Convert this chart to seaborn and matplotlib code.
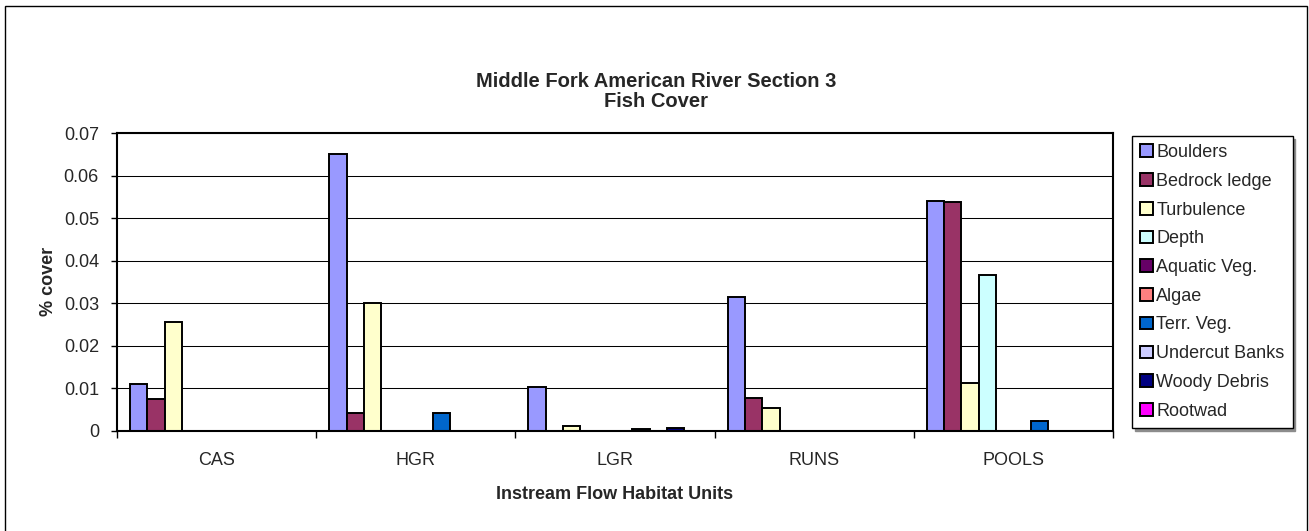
import pandas as pd
import matplotlib
matplotlib.use('Agg')
import matplotlib.pyplot as plt
import matplotlib.patches as mpatches
import seaborn as sns

# habitat units and cover types
units = ['CAS', 'HGR', 'LGR', 'RUNS', 'POOLS']
cover_types = ['Boulders', 'Bedrock ledge', 'Turbulence', 'Depth', 'Aquatic Veg.',
               'Algae', 'Terr. Veg.', 'Undercut Banks', 'Woody Debris', 'Rootwad']
colors = ['#9999FF', '#993366', '#FFFFCC', '#CCFFFF', '#660066',
          '#FF8080', '#0066CC', '#CCCCFF', '#000080', '#FF00FF']

# % cover per unit, one list per cover type (order follows units)
boulders = [0.0110, 0.0650, 0.0103, 0.0315, 0.0539]
bedrock = [0.0074, 0.0041, 0.0, 0.0078, 0.0537]
turbulence = [0.0255, 0.0301, 0.0012, 0.0053, 0.0113]
depth = [0.0, 0.0, 0.0, 0.0, 0.0365]
aquatic_veg = [0.0, 0.0, 0.0, 0.0, 0.0]
algae = [0.0, 0.0, 0.0, 0.0, 0.0]
terr_veg = [0.0, 0.0042, 0.0005, 0.0, 0.0023]
undercut = [0.0, 0.0, 0.0, 0.0, 0.0]
woody = [0.0, 0.0, 0.0006, 0.0, 0.0]
rootwad = [0.0, 0.0, 0.0, 0.0, 0.0]

series = [boulders, bedrock, turbulence, depth, aquatic_veg,
          algae, terr_veg, undercut, woody, rootwad]

rows = []
for name, vals in zip(cover_types, series):
    for u, v in zip(units, vals):
        rows.append({'Unit': u, 'Cover': name, 'Value': v})
df = pd.DataFrame(rows)

sns.set_style('white')
plt.rcParams['font.family'] = ['Liberation Sans', 'DejaVu Sans']

fig = plt.figure(figsize=(13.09, 5.31), dpi=100)
ax = fig.add_axes([0.0894, 0.1889, 0.7609, 0.5606])

sns.barplot(data=df, x='Unit', y='Value', hue='Cover', order=units,
            hue_order=cover_types, palette=colors, saturation=1,
            width=0.87, edgecolor='black', linewidth=1.4, errorbar=None, ax=ax)

ax.set_ylim(0, 0.07)
ax.set_xlim(-0.5, 4.5)
ax.set_yticks([0, 0.01, 0.02, 0.03, 0.04, 0.05, 0.06, 0.07])
ax.set_yticklabels(['0', '0.01', '0.02', '0.03', '0.04', '0.05', '0.06', '0.07'])
ax.yaxis.grid(True, color='black', linewidth=0.75)
ax.set_axisbelow(True)
ax.tick_params(axis='y', left=True, length=4, width=1, pad=9, labelsize=13, color='black')
ax.tick_params(axis='x', bottom=False, length=0, pad=15, labelsize=13)
ax.set_xticks([-0.5, 0.5, 1.5, 2.5, 3.5, 4.5], minor=True)
ax.tick_params(axis='x', which='minor', bottom=True, length=5, width=1, color='black')
for s in ax.spines.values():
    s.set_color('black')
    s.set_linewidth(1.5)

ax.set_xlabel('Instream Flow Habitat Units', fontsize=13, fontweight='bold')
ax.set_ylabel('% cover', fontsize=13, fontweight='bold', labelpad=5)
ax.xaxis.set_label_coords(0.5, -0.186)

fig.text(0.501, 0.828, 'Middle Fork American River Section 3\nFish Cover',
         ha='center', va='center', fontsize=14.5, fontweight='bold', linespacing=1.08)

ax.legend(loc='center left', bbox_to_anchor=(1.019, 0.5), borderaxespad=0,
          fontsize=13, frameon=True, fancybox=False, edgecolor='black',
          shadow={'color': '0.55', 'alpha': 1}, handlelength=0.7, handleheight=0.7,
          handletextpad=0.2, labelspacing=0.65, borderpad=0.45)
leg = ax.get_legend()
leg.get_frame().set_linewidth(1.0)

# outer chart border
fig.patches.append(mpatches.Rectangle((5 / 1309, -0.05), 1302 / 1309, 1 - 6 / 531 + 0.05,
                                      transform=fig.transFigure, fill=False,
                                      edgecolor='black', linewidth=1.0))

fig.savefig('out.png', dpi=100)
